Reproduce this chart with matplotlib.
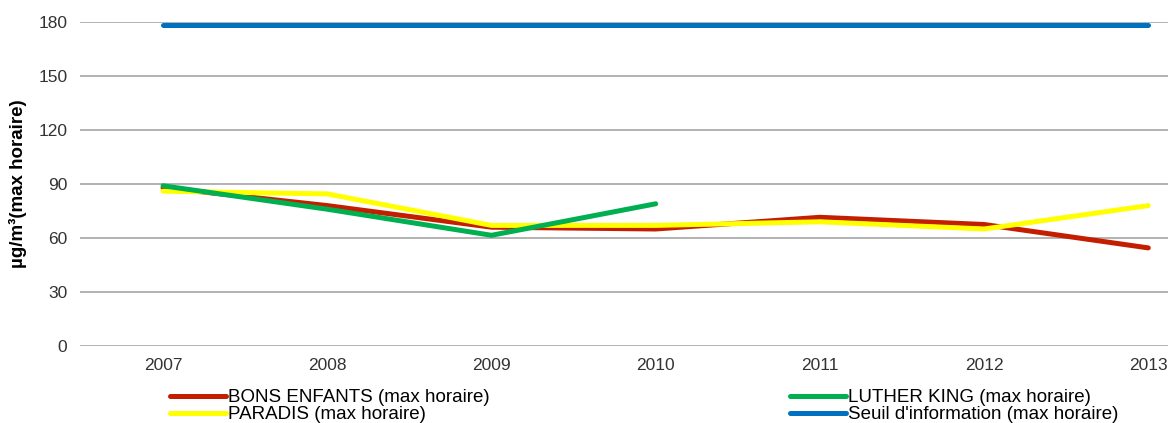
import numpy as np
import matplotlib
matplotlib.use('Agg')
import matplotlib.pyplot as plt

plt.rcParams['font.family'] = ['Liberation Sans', 'DejaVu Sans']

# data
years = [2007, 2008, 2009, 2010, 2011, 2012, 2013]
bons_enfants = [88, 78, 66, 65, 71.5, 67.5, 54.5]
luther_king = [89, 76, 61.5, 79, None, None, None]
paradis = [86, 84.5, 67, 67, 69, 65, 78]
seuil = [178.5] * 7

yticks = [0, 30, 60, 90, 120, 150, 180]

fig = plt.figure(figsize=(11.71, 4.23), dpi=100)
ax = fig.add_axes([80 / 1171, 1 - 346 / 423, (1168 - 80) / 1171, (346 - 22) / 423])

lw = 3.6
lk = np.array([np.nan if v is None else v for v in luther_king], dtype=float)
l_red, = ax.plot(years, bons_enfants, color='#C41E00', lw=lw, solid_capstyle='round',
                 solid_joinstyle='round', label='BONS ENFANTS (max horaire)', zorder=3)
l_yel, = ax.plot(years, paradis, color='#FFFF00', lw=lw, solid_capstyle='round',
                 solid_joinstyle='round', label='PARADIS (max horaire)', zorder=4)
l_grn, = ax.plot(years, lk, color='#00B050', lw=lw, solid_capstyle='round',
                 solid_joinstyle='round', label='LUTHER KING (max horaire)', zorder=5)
l_blu, = ax.plot(years, seuil, color='#0070C0', lw=lw, solid_capstyle='round',
                 label="Seuil d'information (max horaire)", zorder=6)

ax.set_xlim(2006.494, 2013.12)
ax.set_ylim(0, 180)
ax.set_yticks(yticks)
ax.set_xticks(years)
ax.grid(axis='y', color='#A6A6A6', lw=1.2)
ax.set_axisbelow(True)
for s in ax.spines.values():
    s.set_visible(False)
ax.tick_params(length=0, labelsize=12.5, colors='#333333', pad=9)

ax.set_ylabel('µg/m³(max horaire)', fontsize=13.5, fontweight='bold', labelpad=8)

fig.legend(handles=[l_red, l_yel, l_grn, l_blu], loc='upper left',
           bbox_to_anchor=(170 / 1171, 1 - 389 / 423), ncol=2, frameon=False,
           fontsize=13.5, handlelength=3.0, handletextpad=0.1,
           columnspacing=16.0, labelspacing=0.0, borderpad=0, borderaxespad=0)

fig.savefig('out.png', dpi=100)
